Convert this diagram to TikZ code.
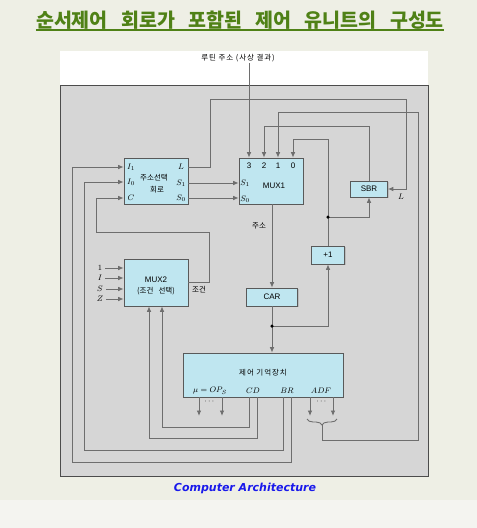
\documentclass[tikz,border=0pt]{standalone}
\usepackage{amsmath}
\usepackage{fontspec}
\setsansfont{Liberation Sans}
\newfontfamily\kr{Noto Sans CJK KR}
\newfontfamily\krsp{Noto Sans CJK KR}[LetterSpace=12]
\newfontfamily\krtitle{Noto Sans CJK KR}[WordSpace=3]
\newfontfamily\capfont{DejaVu Sans}
\usetikzlibrary{arrows.meta,decorations.pathreplacing,shadows}
\definecolor{bgcol}{RGB}{238,239,229}
\definecolor{bglow}{RGB}{244,244,240}
\definecolor{titlegreen}{RGB}{79,129,22}
\definecolor{panelgray}{RGB}{214,214,214}
\definecolor{boxblue}{RGB}{191,230,240}
\definecolor{wirecol}{RGB}{110,110,110}
\definecolor{capblue}{RGB}{25,25,235}

\begin{document}
\begin{tikzpicture}[x=1pt,y=-1pt,
  blk/.style={draw=black!65,fill=boxblue,line width=0.6pt,inner sep=0pt,
    drop shadow={shadow xshift=1pt,shadow yshift=-1pt,opacity=.3}},
  wire/.style={draw=wirecol,line width=0.9pt},
  arr/.style={wire,-{Latex[length=5.5pt,width=4.5pt]}},
  lab/.style={font=\fontsize{8}{9}\selectfont,inner sep=0pt},
  klab/.style={font=\kr\fontsize{7.5}{8}\selectfont,inner sep=0pt},
  slab/.style={font=\sffamily\fontsize{8}{9}\selectfont,inner sep=0pt},
  dot/.style={circle,fill=black,inner sep=0pt,minimum size=3.5pt}]
\useasboundingbox (0,0) rectangle (477,528);
\fill[bgcol] (0,0) rectangle (477,528);
\fill[bglow] (0,500) rectangle (477,528);
\node[anchor=base,inner sep=0pt,text=titlegreen,font=\krtitle\bfseries\fontsize{19.5}{21}\selectfont] (title) at (240,27) {순서제어 회로가 포함된 제어 유니트의 구성도};
\draw[titlegreen,line width=1.6pt] ([yshift=-3pt]title.base west) -- ([yshift=-3pt]title.base east);
\fill[white] (60,51) rectangle (428,85);
\draw[black!70,fill=panelgray,line width=0.6pt] (60,85) rectangle (428,476);
\node[klab,font=\krsp\fontsize{7.5}{8}\selectfont,inner sep=1pt] (rt) at (238,58) {루틴 주소 (사상 결과)};
% blocks
\node[blk,minimum width=64pt,minimum height=46pt] (asc) at (156,181) {};
\node[blk,minimum width=64pt,minimum height=46pt] (mux1) at (271,181) {};
\node[blk,minimum width=37pt,minimum height=16pt,slab] (sbr) at (369,189) {SBR};
\node[blk,minimum width=33pt,minimum height=18pt,slab] (plus) at (328,255) {+1};
\node[blk,minimum width=51pt,minimum height=18pt,slab] (car) at (272,297) {CAR};
\node[blk,minimum width=64pt,minimum height=47pt] (mux2) at (156,282.5) {};
\node[blk,minimum width=160pt,minimum height=44pt] (cmem) at (263,375) {};
\node[lab] (ai1) at (131,167) {$I_1$};
\node[lab] (ai0) at (131,182) {$I_0$};
\node[lab] (ac) at (131,198) {$C$};
\node[lab] (al) at (181,167) {$L$};
\node[lab] (as1) at (181,183) {$S_1$};
\node[lab] (as0) at (181,198) {$S_0$};
\node[klab] (at1) at (154,178) {주소선택};
\node[klab] (at2) at (157,190) {회로};
\foreach \d/\x in {3/249,2/264,1/278,0/293}
  \node[slab] (d\d) at (\x,166) {\d};
\node[lab] (ms1) at (245,183) {$S_1$};
\node[lab] (ms0) at (245,199) {$S_0$};
\node[slab] (m1t) at (274,186) {MUX1};
\node[slab] (m2t) at (156,280) {MUX2};
\node[klab] (m2s) at (156,291) {(조건 선택)};
\foreach \t/\y/\n in {1/268/a,I/278/b,S/289/c,Z/299/d} {
  \node[lab] (mi\n) at (100,\y) {$\t$};
  \draw[arr] ([xshift=3pt]mi\n.east) -- (mux2.west |- mi\n);
}
\node[klab,font=\krsp\fontsize{7.5}{8}\selectfont] (cmt) at (263,373) {제어 기억장치};
\node[lab] (cmu) at (210,391) {$\mu = OP_S$};
\node[lab] (ccd) at (253,391) {$CD$};
\node[lab] (cbr) at (287,391) {$BR$};
\node[lab] (cadf) at (321,391) {$ADF$};
\node[klab] (addr) at (259,226) {주소};
\node[klab] (cond) at (199,290) {조건};
\node[lab] (sl) at (401,197) {$L$};
\node[lab] (e1) at (210,402) {$\cdots$};
\node[lab] (e2) at (322,402) {$\cdots$};
% wires
\coordinate (dta) at (328,217);
\coordinate (dtb) at (272,326);
\draw[arr] (rt.south -| d3) -- (mux1.north -| d3);
\draw[arr] (asc.east |- al) -- (210,167) -- (210,99) -- (406,99) -- (406,189) -- (sbr.east);
\draw[arr] (asc.east |- as1) -- (mux1.west |- as1);
\draw[arr] (asc.east |- as0) -- (mux1.west |- as0);
\draw[arr] (sbr.north) -- (369,126) -- (264,126) -- (mux1.north -| d2);
\draw[wire] (plus.north) -- (dta);
\draw[arr] (dta) -- (328,139) -- (293,139) -- (mux1.north -| d0);
\draw[arr] (dta) -- (sbr.south |- dta) -- (sbr.south);
\draw[arr] (mux1.south -| car) -- (car.north);
\draw[wire] (car.south) -- (dtb);
\draw[arr] (dtb) -- (cmem.north -| dtb);
\draw[arr] (dtb) -- (plus.south |- dtb) -- (plus.south);
\draw[arr] (cmem.south -| 199,0) -- (199,416);
\draw[arr] (cmem.south -| 222,0) -- (222,416);
\draw[arr] (cmem.south -| 249,0) -- (249,427) -- (162,427) -- (mux2.south -| 162,0);
\draw[arr] (cmem.south -| 257,0) -- (257,438) -- (149,438) -- (mux2.south -| 149,0);
\draw[arr] (cmem.south -| 283,0) -- (283,450) -- (84,450) -- (84,182) -- (asc.west |- ai0);
\draw[arr] (cmem.south -| 291,0) -- (291,462) -- (72,462) -- (72,167) -- (asc.west |- ai1);
\draw[arr] (mux2.east |- 0,282) -- (209,282) -- (209,232) -- (96,232) -- (96,198) -- (asc.west |- ac);
\draw[arr] (cmem.south -| 310,0) -- (310,416);
\draw[arr] (cmem.south -| 333,0) -- (333,416);
\draw[wire,decorate,decoration={brace,mirror,amplitude=6pt}] (307,419) -- (337,419);
\coordinate (btip) at (322,425);
\draw[arr] (btip) -- (322,440) -- (418,440) -- (418,112) -- (278,112) -- (mux1.north -| d1);
\node[dot] (pa) at (dta) {};
\node[dot] (pb) at (dtb) {};
\node[font=\capfont\bfseries\itshape\fontsize{11}{13}\selectfont,text=capblue] (cap) at (245,488) {Computer Architecture};
\end{tikzpicture}
\end{document}
